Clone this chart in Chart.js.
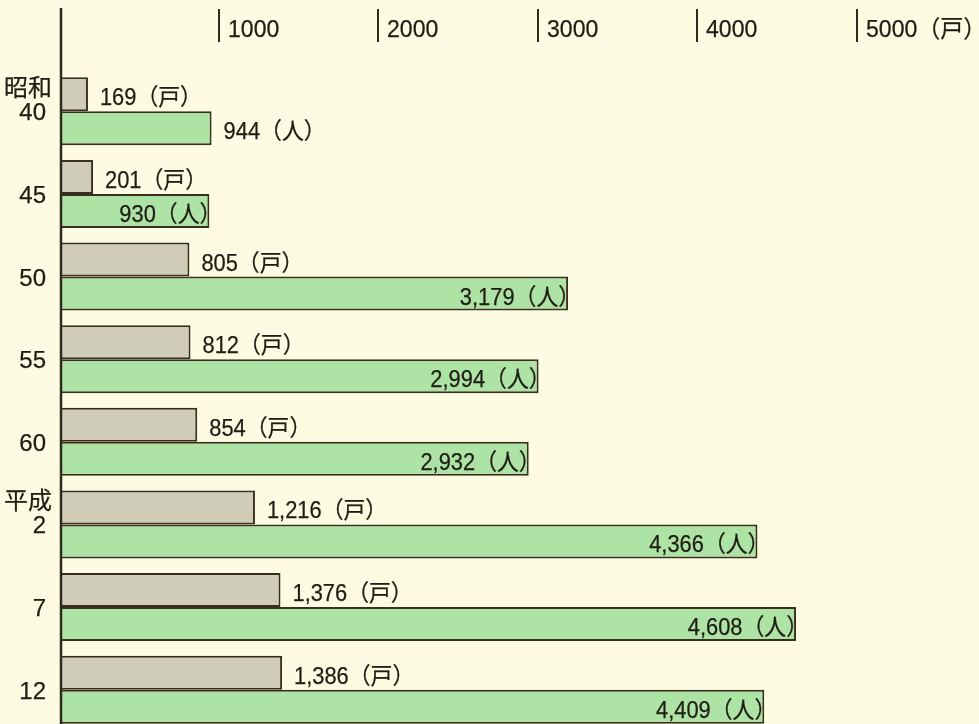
<!DOCTYPE html>
<html>
<head>
<meta charset="utf-8">
<script src="https://cdn.jsdelivr.net/npm/chart.js@4"></script>
<style>
  html, body { margin: 0; padding: 0; background: #fdfce2; overflow: hidden; }
  #wrap { width: 979px; height: 724px; overflow: hidden; }
</style>
</head>
<body>
<div id="wrap"><canvas id="chart" width="979" height="731"></canvas></div>
<script>
// era prefix (only where the era starts) and year of each row
const eraLabels = ['昭和', '', '', '', '', '平成', '', ''];
const yearLabels = ['40', '45', '50', '55', '60', '2', '7', '12'];

// households (戸) and people (人)
const households = [169, 201, 805, 812, 854, 1216, 1376, 1386];
const people = [944, 930, 3179, 2994, 2932, 4366, 4608, 4409];

// top axis
const tickValues = [1000, 2000, 3000, 4000, 5000];
const tickTexts = ['1000', '2000', '3000', '4000', '5000（戸）'];

// which people labels sit outside their bar
const peopleOutside = [true, false, false, false, false, false, false, false];

const FONT = '"Liberation Sans", "Noto Sans CJK JP", sans-serif';
const INK = '#1f1d14';

function squeezeText(ctx, text, x, y, align, size, sx) {
  ctx.save();
  ctx.translate(x, y);
  ctx.scale(sx, 1);
  ctx.font = size + 'px ' + FONT;
  ctx.textAlign = align;
  ctx.textBaseline = 'alphabetic';
  ctx.fillStyle = INK;
  ctx.strokeStyle = INK;
  ctx.lineWidth = 0.25;
  ctx.fillText(text, 0, 0);
  ctx.strokeText(text, 0, 0);
  ctx.restore();
}

const decor = {
  id: 'decor',
  afterDatasetsDraw(chart) {
    const ctx = chart.ctx;
    const xs = chart.scales.x;
    const ys = chart.scales.y;
    const x0 = xs.getPixelForValue(0);

    // value labels
    const hMeta = chart.getDatasetMeta(0);
    const pMeta = chart.getDatasetMeta(1);
    households.forEach((v, i) => {
      const bar = hMeta.data[i];
      const bottom = bar.y + bar.height / 2;
      squeezeText(ctx, v.toLocaleString('en-US') + '（戸）', bar.x + 12, bottom - 6, 'left', 23, 0.95);
    });
    people.forEach((v, i) => {
      const bar = pMeta.data[i];
      const bottom = bar.y + bar.height / 2;
      const txt = v.toLocaleString('en-US') + '（人）';
      if (peopleOutside[i]) {
        squeezeText(ctx, txt, bar.x + 12, bottom - 6, 'left', 23, 0.95);
      } else {
        squeezeText(ctx, txt, bar.x + 12, bottom - 6, 'right', 23, 0.95);
      }
    });

    // vertical axis line
    ctx.save();
    ctx.strokeStyle = '#2e2a1c';
    ctx.lineWidth = 2.5;
    ctx.beginPath();
    ctx.moveTo(x0, 8);
    ctx.lineTo(x0, chart.height);
    ctx.stroke();

    // top ticks "|1000"
    tickValues.forEach((v, i) => {
      const x = Math.round(xs.getPixelForValue(v)) - 2;
      ctx.strokeStyle = '#2e2a1c';
      ctx.lineWidth = 2;
      ctx.beginPath();
      ctx.moveTo(x, 9);
      ctx.lineTo(x, 42);
      ctx.stroke();
      squeezeText(ctx, tickTexts[i], x + 9, 37, 'left', 24, 0.96);
    });
    ctx.restore();

    // category labels
    yearLabels.forEach((y, i) => {
      const cy = ys.getPixelForValue(i);
      ctx.save();
      ctx.fillStyle = INK;
      ctx.strokeStyle = INK;
      ctx.lineWidth = 0.25;
      ctx.textBaseline = 'alphabetic';
      ctx.textAlign = 'right';
      ctx.font = '24px ' + FONT;
      ctx.fillText(y, 46, cy + 9);
      ctx.strokeText(y, 46, cy + 9);
      if (eraLabels[i]) {
        ctx.font = '24px "Noto Sans CJK JP", sans-serif';
        ctx.fillText(eraLabels[i], 52, cy - 15);
        ctx.strokeText(eraLabels[i], 52, cy - 15);
      }
      ctx.restore();
    });
  }
};

new Chart(document.getElementById('chart').getContext('2d'), {
  type: 'bar',
  data: {
    labels: yearLabels,
    datasets: [
      {
        label: '戸',
        data: households,
        backgroundColor: '#cfccb8',
        borderColor: '#3a2f1f',
        borderWidth: 2,
        borderSkipped: 'start'
      },
      {
        label: '人',
        data: people,
        backgroundColor: '#aee3a6',
        borderColor: '#3a2f1f',
        borderWidth: 2,
        borderSkipped: 'start'
      }
    ]
  },
  options: {
    indexAxis: 'y',
    responsive: false,
    animation: false,
    categoryPercentage: 0.823,
    barPercentage: 1,
    layout: { padding: { left: 61, top: 70, right: 0, bottom: 0 } },
    scales: {
      x: { display: false, min: 0, max: 5755 },
      y: { display: false }
    },
    plugins: {
      legend: { display: false },
      tooltip: { enabled: false }
    }
  },
  plugins: [decor]
});
</script>
</body>
</html>
